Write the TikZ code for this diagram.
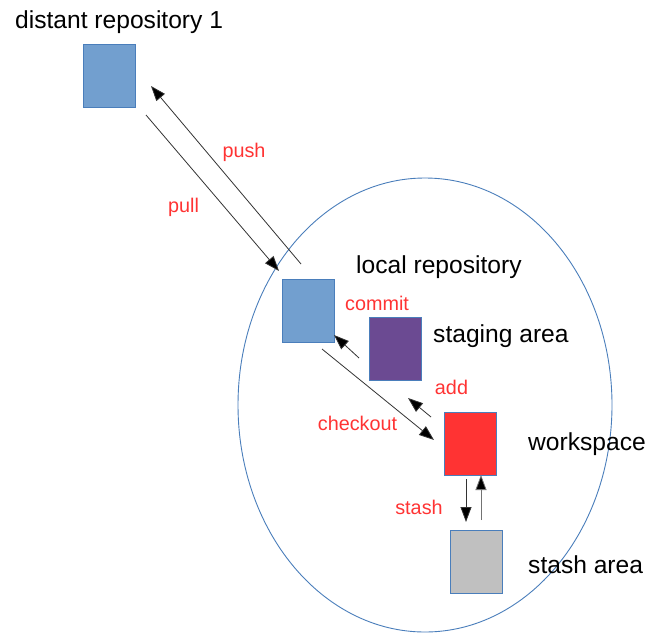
\documentclass[tikz,border=0pt]{standalone}
\usepackage{fontspec}
\setmainfont{Liberation Sans}
\usetikzlibrary{arrows.meta}
\definecolor{repoblue}{HTML}{729FCF}
\definecolor{edgeblue}{HTML}{4A7EBB}
\definecolor{stagepurple}{HTML}{6B4A92}
\definecolor{workred}{HTML}{FF3333}
\definecolor{stashgray}{HTML}{C0C0C0}
\definecolor{labelred}{HTML}{FF3333}
\tikzset{
  area/.style={draw=edgeblue, line width=0.9pt, minimum width=52pt, minimum height=63pt, inner sep=0pt},
  title/.style={anchor=base west, inner sep=0pt, font=\fontsize{24.6}{28}\selectfont},
  cmd/.style={inner sep=0pt, text=labelred, font=\fontsize{19.8}{23}\selectfont},
  flow/.style={draw=black!80, line width=0.8pt, -{Triangle[length=15pt, width=11pt, fill=black]}},
}
\begin{document}
\begin{tikzpicture}[x=1pt, y=-1pt]
  \useasboundingbox (0,0) rectangle (653,632);
  % local repository boundary
  \draw[edgeblue, line width=0.9pt] (425,405) ellipse [x radius=187, y radius=227];

  % storage areas
  \node[area, fill=repoblue]    (distant) at (109,76)    {};
  \node[area, fill=repoblue]    (local)   at (308.5,310.5) {};
  \node[area, fill=stagepurple] (staging) at (395,348.5) {};
  \node[area, fill=workred]     (work)    at (470,443.5) {};
  \node[area, fill=stashgray]   (stash)   at (476,562)   {};

  % titles
  \node[title] (tdistant) at (15,28)  {distant repository 1};
  \node[title] (tlocal)   at (356,273) {local repository};
  \node[title] (tstaging) at (433,342) {staging area};
  \node[title] (twork)    at (528,450) {workspace};
  \node[title] (tstash)   at (528,573) {stash area};

  % arrow end points
  \coordinate (pullA) at (146,115);  \coordinate (pullB) at (279,271);
  \coordinate (pushA) at (301,264);  \coordinate (pushB) at (151,86);
  \coordinate (comA)  at (359,358);  \coordinate (comB)  at (334,335);
  \coordinate (coA)   at (322,349);  \coordinate (coB)   at (434,440);
  \coordinate (addA)  at (431,417);  \coordinate (addB)  at (408,398);
  \coordinate (stA)   at (466,479);  \coordinate (stB)   at (466,522);
  \coordinate (unA)   at (481,520);  \coordinate (unB)   at (481,475);

  % operations
  \draw[flow] (pullA) -- (pullB);
  \draw[flow] (pushA) -- (pushB);
  \draw[flow] (comA) -- (comB);
  \draw[flow] (coA) -- (coB);
  \draw[flow] (addA) -- (addB);
  \draw[flow] (stA) -- (stB);
  \draw[flow, draw=black!55] (unA) -- (unB);

  % operation labels
  \node[cmd] (lpush)     at (244,152) {push};
  \node[cmd] (lpull)     at (183.5,207) {pull};
  \node[cmd] (lcommit)   at (377,303) {commit};
  \node[cmd] (ladd)      at (451.5,387) {add};
  \node[cmd] (lcheckout) at (357.5,423) {checkout};
  \node[cmd] (lstash)    at (419,507) {stash};
\end{tikzpicture}
\end{document}
